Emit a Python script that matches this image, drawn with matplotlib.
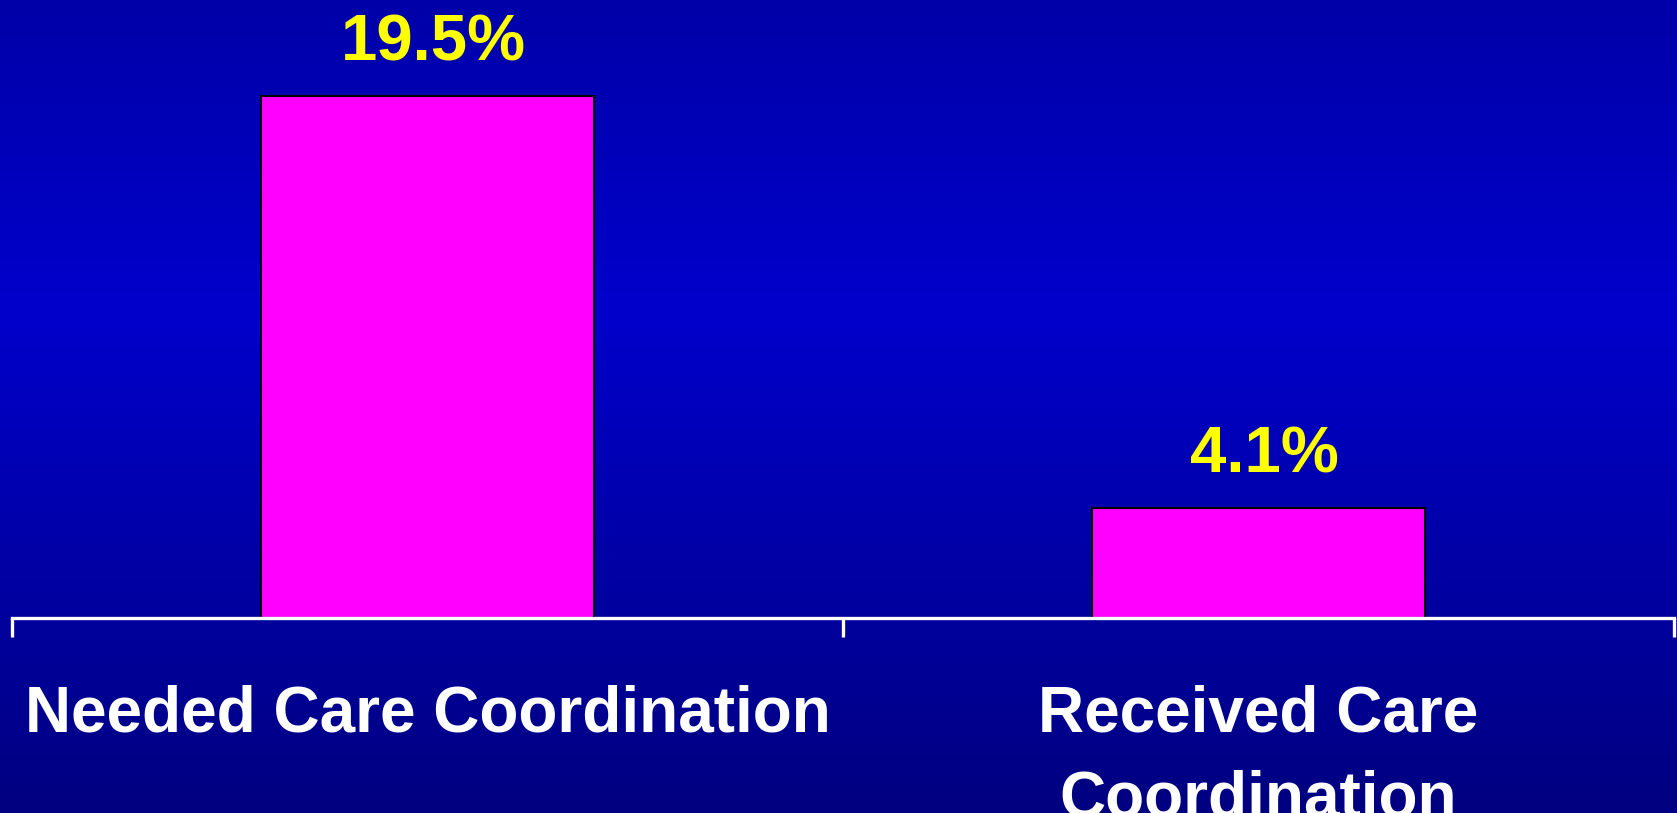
import numpy as np
import matplotlib
matplotlib.use("Agg")
import matplotlib.pyplot as plt
from matplotlib.colors import LinearSegmentedColormap

categories = ["Needed Care Coordination", "Received Care\nCoordination"]
values = [19.5, 4.1]
value_labels = ["19.5%", "4.1%"]

plt.rcParams['font.family'] = ['Liberation Sans', 'DejaVu Sans']

fig = plt.figure(figsize=(16.77, 8.13), dpi=100)

# blue gradient background (dark top/bottom, brighter in the upper middle)
bg = fig.add_axes([0, 0, 1, 1], zorder=0)
bg.axis("off")
cmap = LinearSegmentedColormap.from_list(
    "bg", [(0.0, "#0000a8"), (0.38, "#0000cc"), (1.0, "#000080")])
grad = np.linspace(0, 1, 400).reshape(-1, 1)
bg.imshow(grad, aspect="auto", cmap=cmap, extent=[0, 1, 0, 1])

ax = fig.add_axes([12 / 1677, 195 / 813, 1662 / 1677, 618 / 813], zorder=1)
ax.patch.set_alpha(0)

x = np.arange(len(categories))
ax.bar(x, values, width=0.4, color="#ff00ff", edgecolor="black", linewidth=1.5)

for xi, v, lab in zip(x, values, value_labels):
    ax.annotate(lab, (xi, v), xytext=(4, 16), textcoords="offset points",
                ha="center", va="bottom", color="#ffff00",
                fontsize=47, fontweight="bold")

ax.set_xlim(-0.5, 1.5)
ax.set_ylim(0, 23.08)

for s in ["top", "right", "left"]:
    ax.spines[s].set_visible(False)
ax.spines["bottom"].set_color("white")
ax.spines["bottom"].set_linewidth(2.4)
ax.set_yticks([])

ax.set_xticks(x)
ax.set_xticklabels(categories, color="white", fontsize=46, fontweight="bold",
                   linespacing=1.52)
ax.tick_params(axis="x", which="major", length=0, pad=48)
ax.set_xticks([-0.5, 0.5, 1.5], minor=True)
ax.tick_params(axis="x", which="minor", length=14, width=2.4, color="white",
               direction="out")

fig.savefig("out.png", dpi=100)
